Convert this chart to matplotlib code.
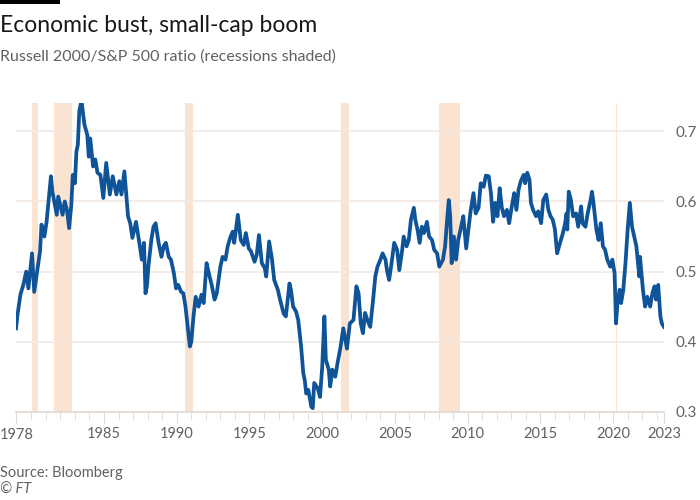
import matplotlib.pyplot as plt
from matplotlib.patches import Rectangle

# Russell 2000 / S&P 500 ratio
years = [1978.95, 1979.05, 1979.25, 1979.45, 1979.65, 1979.8, 1980.05, 1980.2, 1980.35, 1980.6,
         1980.7, 1980.9, 1981.05, 1981.35, 1981.45, 1981.75, 1981.85, 1982.15, 1982.3, 1982.45,
         1982.6, 1982.75, 1982.85, 1983.0, 1983.1, 1983.2, 1983.3, 1983.45, 1983.65, 1983.85,
         1983.95, 1984.05, 1984.25, 1984.4, 1984.55, 1984.75, 1984.95, 1985.15, 1985.4, 1985.6,
         1985.85, 1986.05, 1986.2, 1986.4, 1986.65, 1986.8, 1986.95, 1987.2, 1987.45, 1987.6,
         1987.75, 1987.85, 1987.95, 1988.05, 1988.25, 1988.4, 1988.55, 1988.75, 1988.95, 1989.1,
         1989.25, 1989.45, 1989.6, 1989.8, 1989.95, 1990.1, 1990.3, 1990.45, 1990.6, 1990.75,
         1990.9, 1991.0, 1991.15, 1991.3, 1991.5, 1991.7, 1991.85, 1992.05, 1992.2, 1992.4,
         1992.6, 1992.75, 1993.0, 1993.15, 1993.35, 1993.5, 1993.7, 1993.85, 1993.95, 1994.2,
         1994.4, 1994.6, 1994.75, 1994.95, 1995.1, 1995.35, 1995.5, 1995.65, 1995.85, 1996.05,
         1996.15, 1996.35, 1996.55, 1996.7, 1996.95, 1997.1, 1997.35, 1997.5, 1997.75, 1997.85,
         1998.0, 1998.2, 1998.35, 1998.55, 1998.7, 1998.8, 1998.9, 1999.05, 1999.25, 1999.35,
         1999.45, 1999.7, 1999.85, 2000.0, 2000.15, 2000.25, 2000.45, 2000.55, 2000.7, 2000.9,
         2001.05, 2001.25, 2001.45, 2001.7, 2001.9, 2002.15, 2002.35, 2002.5, 2002.65, 2002.8,
         2002.95, 2003.1, 2003.3, 2003.5, 2003.65, 2003.8, 2004.0, 2004.15, 2004.35, 2004.45,
         2004.6, 2004.8, 2004.95, 2005.15, 2005.3, 2005.5, 2005.6, 2005.8, 2005.95, 2006.1,
         2006.3, 2006.4, 2006.55, 2006.7, 2006.85, 2007.0, 2007.2, 2007.35, 2007.55, 2007.7,
         2007.9, 2008.05, 2008.3, 2008.45, 2008.55, 2008.7, 2008.8, 2008.9, 2009.05, 2009.2,
         2009.35, 2009.55, 2009.7, 2009.9, 2010.05, 2010.2, 2010.4, 2010.55, 2010.75, 2010.9,
         2011.1, 2011.25, 2011.45, 2011.6, 2011.75, 2011.9, 2012.05, 2012.2, 2012.35, 2012.5,
         2012.7, 2012.85, 2013.05, 2013.2, 2013.35, 2013.5, 2013.65, 2013.85, 2013.95, 2014.1,
         2014.25, 2014.35, 2014.5, 2014.7, 2014.85, 2015.05, 2015.2, 2015.4, 2015.55, 2015.7,
         2015.85, 2016.0, 2016.15, 2016.35, 2016.55, 2016.7, 2016.8, 2016.85, 2016.95, 2017.1,
         2017.25, 2017.45, 2017.6, 2017.8, 2017.9, 2018.1, 2018.25, 2018.45, 2018.55, 2018.65,
         2018.85, 2019.0, 2019.15, 2019.3, 2019.45, 2019.6, 2019.8, 2019.95, 2020.1, 2020.2,
         2020.3, 2020.45, 2020.55, 2020.7, 2020.85, 2021.0, 2021.15, 2021.3, 2021.45, 2021.6,
         2021.8, 2021.85, 2022.05, 2022.2, 2022.35, 2022.55, 2022.7, 2022.85, 2022.95, 2023.1,
         2023.25, 2023.35, 2023.5]
ratio = [0.419, 0.438, 0.467, 0.481, 0.500, 0.476, 0.526, 0.471, 0.493, 0.529,
         0.567, 0.550, 0.571, 0.636, 0.614, 0.581, 0.607, 0.581, 0.600, 0.588,
         0.562, 0.595, 0.638, 0.626, 0.671, 0.681, 0.729, 0.744, 0.710, 0.695,
         0.664, 0.690, 0.650, 0.660, 0.641, 0.638, 0.605, 0.655, 0.610, 0.636,
         0.610, 0.629, 0.610, 0.643, 0.579, 0.569, 0.548, 0.571, 0.538, 0.517,
         0.541, 0.469, 0.479, 0.507, 0.545, 0.564, 0.569, 0.541, 0.521, 0.536,
         0.541, 0.521, 0.517, 0.498, 0.476, 0.481, 0.471, 0.469, 0.450, 0.421,
         0.393, 0.400, 0.436, 0.464, 0.450, 0.467, 0.455, 0.512, 0.498, 0.481,
         0.460, 0.469, 0.507, 0.521, 0.517, 0.536, 0.550, 0.557, 0.541, 0.581,
         0.545, 0.538, 0.555, 0.533, 0.529, 0.514, 0.524, 0.552, 0.512, 0.505,
         0.493, 0.543, 0.517, 0.488, 0.474, 0.460, 0.440, 0.436, 0.483, 0.474,
         0.450, 0.443, 0.431, 0.393, 0.355, 0.345, 0.326, 0.331, 0.307, 0.305,
         0.341, 0.333, 0.321, 0.364, 0.436, 0.374, 0.360, 0.336, 0.360, 0.350,
         0.369, 0.391, 0.419, 0.390, 0.426, 0.431, 0.479, 0.469, 0.426, 0.412,
         0.441, 0.431, 0.421, 0.460, 0.493, 0.507, 0.517, 0.526, 0.517, 0.502,
         0.488, 0.517, 0.541, 0.531, 0.502, 0.531, 0.550, 0.536, 0.545, 0.574,
         0.591, 0.574, 0.560, 0.541, 0.564, 0.555, 0.571, 0.550, 0.545, 0.531,
         0.526, 0.507, 0.517, 0.536, 0.564, 0.602, 0.579, 0.512, 0.550, 0.517,
         0.545, 0.564, 0.579, 0.533, 0.560, 0.586, 0.612, 0.583, 0.591, 0.626,
         0.621, 0.637, 0.636, 0.612, 0.571, 0.598, 0.579, 0.619, 0.591, 0.579,
         0.588, 0.569, 0.595, 0.612, 0.588, 0.617, 0.629, 0.638, 0.626, 0.641,
         0.631, 0.598, 0.588, 0.579, 0.586, 0.569, 0.602, 0.610, 0.588, 0.579,
         0.574, 0.560, 0.526, 0.541, 0.555, 0.569, 0.583, 0.560, 0.614, 0.602,
         0.579, 0.583, 0.564, 0.593, 0.569, 0.564, 0.583, 0.602, 0.614, 0.598,
         0.560, 0.545, 0.569, 0.536, 0.531, 0.517, 0.507, 0.517, 0.498, 0.426,
         0.455, 0.474, 0.455, 0.474, 0.512, 0.560, 0.598, 0.564, 0.550, 0.536,
         0.493, 0.521, 0.474, 0.450, 0.464, 0.450, 0.469, 0.479, 0.460, 0.481,
         0.436, 0.426, 0.421]

# recession periods (start, end)
recessions = [(1980.07, 1980.48), (1981.58, 1982.82), (1990.58, 1991.15),
              (2001.26, 2001.86), (2008.04, 2009.44), (2020.2, 2020.27)]

x_ticks = [1978.95, 1985, 1990, 1995, 2000, 2005, 2010, 2015, 2020, 2023.5]
x_labels = ["", "1985", "1990", "1995", "2000", "2005", "2010", "2015", "2020", "2023"]
y_ticks = [0.3, 0.4, 0.5, 0.6, 0.7]

plt.rcParams['font.family'] = ['Lato', 'DejaVu Sans']
grey = '#66605c'
light = '#f2e9e3'

fig = plt.figure(figsize=(7, 5), dpi=100)
fig.patch.set_facecolor('white')
ax = fig.add_axes([0.0229, 0.1766, 0.9257, 0.618])

for a, b in recessions:
    ax.axvspan(a, b, color='#fbe3d2', lw=0, zorder=0)

ax.plot(years, ratio, color='#0f5499', lw=2.7, zorder=3, solid_joinstyle='round')

ax.set_xlim(1978.95, 2023.5)
ax.set_ylim(0.3, 0.741)

ax.set_yticks(y_ticks)
ax.set_yticklabels(["0.3", "0.4", "0.5", "0.6", "0.7"])
ax.yaxis.tick_right()
ax.tick_params(axis='y', length=0, pad=8, labelsize=11, labelcolor=grey)
ax.grid(axis='y', color=light, lw=1.2, zorder=1)

ax.set_xticks(x_ticks)
ax.set_xticklabels(x_labels)
ax.set_xticks(list(range(1980, 2024)), minor=True)
ax.tick_params(axis='x', which='major', length=8, color='#e2d9d2', pad=3,
               labelsize=10.5, labelcolor=grey)
ax.tick_params(axis='x', which='minor', length=6, color='#e2d9d2')

for s in ['top', 'right', 'left']:
    ax.spines[s].set_visible(False)
ax.spines['bottom'].set_color('#e2d9d2')
ax.spines['bottom'].set_linewidth(1.2)

# first year label sits flush with the left edge of the figure
fig.text(0.0, 0.13, "1978", fontsize=10.5, color=grey, va='center', ha='left')

# FT style black bar and texts
fig.add_artist(Rectangle((0, 0.992), 60 / 700, 0.008, transform=fig.transFigure,
                         color='black', lw=0))
fig.text(0.0, 0.948, "Economic bust, small-cap boom", fontsize=16.5, color='#1a1817', va='center')
fig.text(0.0, 0.886, "Russell 2000/S&P 500 ratio (recessions shaded)", fontsize=11.5,
         color=grey, va='center')
fig.text(0.0, 0.054, "Source: Bloomberg", fontsize=10.5, color=grey, va='center')
fig.text(0.0, 0.02, "© FT", fontsize=10.5, color=grey, va='center', style='italic')

fig.savefig('out.png', dpi=100)
